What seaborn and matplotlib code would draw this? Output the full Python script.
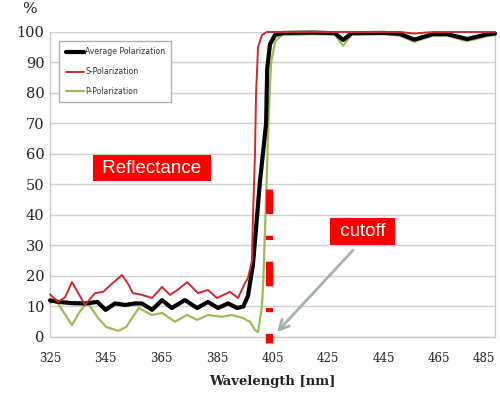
import matplotlib
matplotlib.use("Agg")
import matplotlib.pyplot as plt
import seaborn as sns
import pandas as pd

# ---- data ----
avg_wl = [325, 328, 333, 338, 342, 345, 348.4, 352, 355.6, 358, 361.7, 365.3, 368.8,
          373.5, 377.9, 381.8, 385.4, 389, 392.3, 394.5, 396.2, 398, 400.5, 402.7,
          403.1, 404.1, 405.9, 409, 420, 427.4, 430.4, 433.5, 445, 450.8, 456, 462.7,
          467.7, 475, 482, 485]
avg_val = [12, 11.5, 11.1, 11, 11.5, 8.9, 11, 10.5, 11, 11, 8.9, 12.1, 9.5,
           12.1, 9.5, 11.5, 9.5, 11, 9.5, 10, 13.5, 24, 51, 70,
           88, 96, 99, 99.7, 99.8, 99.6, 97.4, 99.6, 99.7, 99.4, 97.5, 99.3,
           99.3, 97.7, 99.2, 99.5]

s_wl = [325, 327.9, 330.4, 332.9, 335.1, 337.6, 341.2, 344.1, 347.3, 350.9, 353,
        354.8, 358.1, 361.7, 365.3, 368.1, 371, 374.3, 378.2, 381.8, 385, 389.7,
        392.6, 395.1, 396.2, 397.6, 398, 398.7, 399.1, 399.8, 401.2, 403, 420,
        450.8, 456, 462.7, 485]
s_val = [14, 11.5, 13, 18, 14.5, 10.5, 14.4, 14.8, 17.5, 20.3, 17.5,
         14.4, 13.8, 12.8, 16.4, 13.8, 15.5, 18, 14.4, 15.4, 12.8, 14.8,
         12.8, 17.7, 19.3, 25, 40, 60, 80, 95, 99, 100, 100,
         100, 99.5, 100, 100]

p_wl = [325, 326.8, 330, 332.9, 335.5, 338.3, 342.3, 345.2, 349.6, 352.4, 356.9,
        361.7, 365.3, 369.9, 374.3, 377.9, 381.8, 386.8, 390.4, 394.4, 396.9, 398.7,
        399.8, 401.2, 401.7, 402.3, 402.9, 403.5, 404.5, 406, 408.4, 420, 427.4,
        430.4, 433.5, 445, 450.8, 456, 462.7, 467.7, 475, 482, 485]
p_val = [11, 12.5, 8, 3.9, 8, 11.5, 6.2, 3.3, 2, 3.3, 9.5,
         7.2, 7.9, 5, 7.2, 5.6, 7.2, 6.6, 7.2, 6.2, 5, 2.3,
         1.6, 10, 18.7, 35, 51, 70, 90, 97, 99, 99.3, 99.2,
         95.5, 99.2, 99.3, 98.8, 96.8, 98.8, 98.8, 97, 98.6, 99]

series_names = ["Average Polarization", "S-Polarization", "P-Polarization"]
x_ticks = [325, 345, 365, 385, 405, 425, 445, 465, 485]
y_ticks = [0, 10, 20, 30, 40, 50, 60, 70, 80, 90, 100]
cutoff_wl = 403.8

df_avg = pd.DataFrame({"wl": avg_wl, "val": avg_val})
df_s = pd.DataFrame({"wl": s_wl, "val": s_val})
df_p = pd.DataFrame({"wl": p_wl, "val": p_val})

sns.set_style("white")
plt.rcParams["font.family"] = ["DejaVu Serif"]

fig = plt.figure(figsize=(5.0, 3.94), dpi=100)
ax = fig.add_axes([0.1, 0.1447, 0.89, 0.9188 - 0.1447])

GREEN = "#9bbb59"
RED = "#cf2a2e"

sns.lineplot(data=df_p, x="wl", y="val", ax=ax, color=GREEN, lw=1.6,
             label=series_names[2], zorder=3, estimator=None, sort=False)
sns.lineplot(data=df_avg, x="wl", y="val", ax=ax, color="black", lw=3.0,
             label=series_names[0], zorder=4, estimator=None, sort=False)
sns.lineplot(data=df_s, x="wl", y="val", ax=ax, color=RED, lw=1.4,
             label=series_names[1], zorder=5, estimator=None, sort=False)
for ln in ax.lines:
    ln.set_clip_on(False)
    ln.set_solid_joinstyle("round")
    ln.set_solid_capstyle("round")

ax.set_xlim(325, 485)
ax.set_ylim(0, 100)
ax.set_xticks(x_ticks)
ax.set_yticks(y_ticks)
ax.set_yticklabels([str(v) for v in y_ticks], fontsize=10.5, color="#222222")
ax.set_xticklabels([str(v) for v in x_ticks], fontsize=8.5, color="#222222")
xtl = ax.get_xticklabels()
xtl[-1].set_horizontalalignment("right")
xtl[-1].set_x(x_ticks[-1])
ax.grid(axis="y", color="#d0d0d0", lw=1.0)
ax.grid(axis="x", visible=False)
ax.tick_params(axis="y", length=0, pad=4)
ax.tick_params(axis="x", length=3, width=0.8, color="#c8c8c8", pad=8, direction="out")
for side in ["left", "bottom", "right"]:
    ax.spines[side].set_visible(True)
    ax.spines[side].set_color("#c8c8c8")
    ax.spines[side].set_linewidth(1.0)
ax.spines["top"].set_visible(False)

ax.set_xlabel("Wavelength [nm]", fontsize=9.5, fontweight="bold", labelpad=7, color="#222222")
ax.set_ylabel("")
fig.text(0.058, 0.978, "%", fontsize=11, ha="center", va="center", color="#222222")

# cutoff dashed line
ax.plot([cutoff_wl, cutoff_wl], [48.5, -2], color="#ff0000", lw=5.2,
        dashes=(3.4, 3.0, 0.6, 3.0), solid_capstyle="butt", dash_capstyle="butt",
        clip_on=False, zorder=6)

# legend
handles, labels = ax.get_legend_handles_labels()
order = [1, 2, 0]
leg = ax.legend([handles[i] for i in order], [labels[i] for i in order],
                loc="upper left", bbox_to_anchor=(0.021, 0.97), frameon=True,
                fancybox=False, edgecolor="#b0b0b0", framealpha=1,
                prop={"family": "DejaVu Sans", "size": 5.6},
                handlelength=2.4, handletextpad=0.1, labelspacing=1.4,
                borderpad=0.8, borderaxespad=0)
for t in leg.get_texts():
    t.set_color("#333333")

# annotation boxes
ax.text(361.7, 55.4, " Reflectance ", fontsize=13.5, color="white",
        family="Liberation Sans", ha="center", va="center", zorder=7,
        bbox=dict(boxstyle="square,pad=0.25", fc="#ff0000", ec="none"))
ax.text(437.4, 34.6, " cutoff ", fontsize=13.5, color="white",
        family="Liberation Sans", ha="center", va="center", zorder=7,
        bbox=dict(boxstyle="square,pad=0.25", fc="#ff0000", ec="none"))
ax.annotate("", xy=(406.6, 1.6), xytext=(434, 28.5),
            arrowprops=dict(arrowstyle="->,head_length=0.7,head_width=0.35",
                            color="#a7b0b0", lw=2.0, shrinkA=0, shrinkB=0),
            zorder=7, annotation_clip=False)

fig.savefig("out.png", dpi=100)
